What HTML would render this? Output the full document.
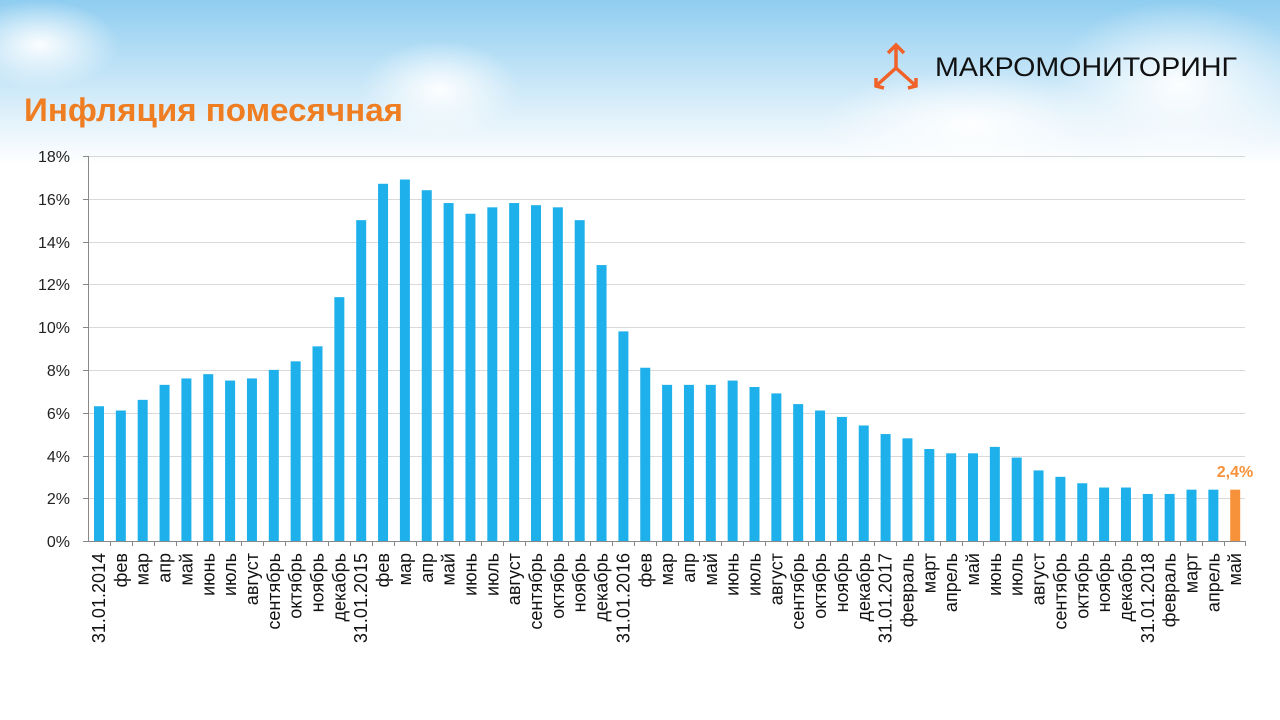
<!DOCTYPE html>
<html><head><meta charset="utf-8"><style>
html,body{margin:0;padding:0}
body{width:1280px;height:720px;overflow:hidden;position:relative;font-family:"Liberation Sans",sans-serif;
background:linear-gradient(180deg,#8fcdf0 0px,#b9e0f6 60px,#e3f2fb 120px,#ffffff 165px,#ffffff 720px);}
.cloud{position:absolute;border-radius:50%;background:radial-gradient(ellipse at center,rgba(255,255,255,0.95),rgba(255,255,255,0) 70%)}
</style></head><body>
<div class="cloud" style="left:360px;top:40px;width:160px;height:100px"></div>
<div class="cloud" style="left:820px;top:70px;width:300px;height:110px"></div>
<div class="cloud" style="left:1050px;top:0px;width:260px;height:170px"></div>
<div class="cloud" style="left:-40px;top:0px;width:160px;height:90px"></div>
<svg width="1280" height="720" style="position:absolute;left:0;top:0" font-family="Liberation Sans, sans-serif">
<text x="24" y="121" font-size="32" font-weight="bold" fill="#ef7d22" textLength="379" lengthAdjust="spacingAndGlyphs">Инфляция помесячная</text>
<g stroke="#f0622a" stroke-width="3.5" fill="none">
<path d="M896 45 L896 68 M888 53 L896 45 L904 53 M896 68 L876 86 M876 78 L876 86 L884 88 M896 68 L916 86 M908 88 L916 86 L916 78"/>
</g>
<text x="935" y="76" font-size="27" fill="#111" textLength="302" lengthAdjust="spacingAndGlyphs">МАКРОМОНИТОРИНГ</text>
<g stroke="#d9d9d9" stroke-width="1">
<line x1="88" y1="156.5" x2="1245" y2="156.5"/><line x1="88" y1="199.5" x2="1245" y2="199.5"/>
<line x1="88" y1="242.5" x2="1245" y2="242.5"/><line x1="88" y1="284.5" x2="1245" y2="284.5"/>
<line x1="88" y1="327.5" x2="1245" y2="327.5"/><line x1="88" y1="370.5" x2="1245" y2="370.5"/>
<line x1="88" y1="413.5" x2="1245" y2="413.5"/><line x1="88" y1="456.5" x2="1245" y2="456.5"/>
<line x1="88" y1="498.5" x2="1245" y2="498.5"/>
</g>
<g stroke="#888">
<line x1="83" y1="156.5" x2="88" y2="156.5"/><line x1="83" y1="199.5" x2="88" y2="199.5"/>
<line x1="83" y1="242.5" x2="88" y2="242.5"/><line x1="83" y1="284.5" x2="88" y2="284.5"/>
<line x1="83" y1="327.5" x2="88" y2="327.5"/><line x1="83" y1="370.5" x2="88" y2="370.5"/>
<line x1="83" y1="413.5" x2="88" y2="413.5"/><line x1="83" y1="456.5" x2="88" y2="456.5"/>
<line x1="83" y1="498.5" x2="88" y2="498.5"/><line x1="83" y1="541.5" x2="88" y2="541.5"/>
</g>
<line x1="88" y1="541.5" x2="1245" y2="541.5" stroke="#888"/>
<line x1="88.5" y1="156" x2="88.5" y2="541" stroke="#888"/>
<g stroke="#888" transform="translate(0,541)">
<path d="M110.5 0v5M132.5 0v5M154.5 0v5M176.5 0v5M197.5 0v5M219.5 0v5M241.5 0v5M263.5 0v5M285.5 0v5M306.5 0v5M328.5 0v5M350.5 0v5M372.5 0v5M394.5 0v5M416.5 0v5M437.5 0v5M459.5 0v5M481.5 0v5M503.5 0v5M525.5 0v5M547.5 0v5M568.5 0v5M590.5 0v5M612.5 0v5M634.5 0v5M656.5 0v5M678.5 0v5M699.5 0v5M721.5 0v5M743.5 0v5M765.5 0v5M787.5 0v5M808.5 0v5M830.5 0v5M852.5 0v5M874.5 0v5M896.5 0v5M918.5 0v5M940.5 0v5M962.5 0v5M983.5 0v5M1005.5 0v5M1027.5 0v5M1049.5 0v5M1071.5 0v5M1093.5 0v5M1115.5 0v5M1137.5 0v5M1158.5 0v5M1180.5 0v5M1202.5 0v5M1224.5 0v5M1245.5 0v5"/>
</g>
<g font-size="16" fill="#222" text-anchor="end">
<text x="70" y="162">18%</text><text x="70" y="205">16%</text><text x="70" y="248">14%</text>
<text x="70" y="290">12%</text><text x="70" y="333">10%</text><text x="70" y="376">8%</text>
<text x="70" y="419">6%</text><text x="70" y="462">4%</text><text x="70" y="504">2%</text><text x="70" y="547">0%</text>
</g>
<g transform="translate(0,541) scale(1,-21.39)" fill="#1eb0ea">
<rect x="94" y="0" width="10" height="6.3"/><rect x="115.85" y="0" width="10" height="6.1"/>
<rect x="137.7" y="0" width="10" height="6.6"/><rect x="159.55" y="0" width="10" height="7.3"/>
<rect x="181.4" y="0" width="10" height="7.6"/><rect x="203.25" y="0" width="10" height="7.8"/>
<rect x="225.1" y="0" width="10" height="7.5"/><rect x="246.95" y="0" width="10" height="7.6"/>
<rect x="268.8" y="0" width="10" height="8.0"/><rect x="290.65" y="0" width="10" height="8.4"/>
<rect x="312.5" y="0" width="10" height="9.1"/><rect x="334.35" y="0" width="10" height="11.4"/>
<rect x="356.2" y="0" width="10" height="15.0"/><rect x="378.05" y="0" width="10" height="16.7"/>
<rect x="399.9" y="0" width="10" height="16.9"/><rect x="421.75" y="0" width="10" height="16.4"/>
<rect x="443.6" y="0" width="10" height="15.8"/><rect x="465.45" y="0" width="10" height="15.3"/>
<rect x="487.3" y="0" width="10" height="15.6"/><rect x="509.15" y="0" width="10" height="15.8"/>
<rect x="531" y="0" width="10" height="15.7"/><rect x="552.85" y="0" width="10" height="15.6"/>
<rect x="574.7" y="0" width="10" height="15.0"/><rect x="596.55" y="0" width="10" height="12.9"/>
<rect x="618.4" y="0" width="10" height="9.8"/><rect x="640.25" y="0" width="10" height="8.1"/>
<rect x="662.1" y="0" width="10" height="7.3"/><rect x="683.95" y="0" width="10" height="7.3"/>
<rect x="705.8" y="0" width="10" height="7.3"/><rect x="727.65" y="0" width="10" height="7.5"/>
<rect x="749.5" y="0" width="10" height="7.2"/><rect x="771.35" y="0" width="10" height="6.9"/>
<rect x="793.2" y="0" width="10" height="6.4"/><rect x="815.05" y="0" width="10" height="6.1"/>
<rect x="836.9" y="0" width="10" height="5.8"/><rect x="858.75" y="0" width="10" height="5.4"/>
<rect x="880.6" y="0" width="10" height="5.0"/><rect x="902.45" y="0" width="10" height="4.8"/>
<rect x="924.3" y="0" width="10" height="4.3"/><rect x="946.15" y="0" width="10" height="4.1"/>
<rect x="968" y="0" width="10" height="4.1"/><rect x="989.85" y="0" width="10" height="4.4"/>
<rect x="1011.7" y="0" width="10" height="3.9"/><rect x="1033.55" y="0" width="10" height="3.3"/>
<rect x="1055.4" y="0" width="10" height="3.0"/><rect x="1077.25" y="0" width="10" height="2.7"/>
<rect x="1099.1" y="0" width="10" height="2.5"/><rect x="1120.95" y="0" width="10" height="2.5"/>
<rect x="1142.8" y="0" width="10" height="2.2"/><rect x="1164.65" y="0" width="10" height="2.2"/>
<rect x="1186.5" y="0" width="10" height="2.4"/><rect x="1208.35" y="0" width="10" height="2.4"/>
<rect x="1230.2" y="0" width="10" height="2.4" fill="#f7923a"/>
</g>
<text x="1235" y="477" font-size="16" font-weight="bold" fill="#f7923a" text-anchor="middle">2,4%</text>
<g font-size="18" fill="#111" text-anchor="end">
<text transform="translate(105,553) rotate(-90)">31.01.2014</text>
<text transform="translate(126.85,553) rotate(-90)">фев</text>
<text transform="translate(148.7,553) rotate(-90)">мар</text>
<text transform="translate(170.55,553) rotate(-90)">апр</text>
<text transform="translate(192.4,553) rotate(-90)">май</text>
<text transform="translate(214.25,553) rotate(-90)">июнь</text>
<text transform="translate(236.1,553) rotate(-90)">июль</text>
<text transform="translate(257.95,553) rotate(-90)">август</text>
<text transform="translate(279.8,553) rotate(-90)">сентябрь</text>
<text transform="translate(301.65,553) rotate(-90)">октябрь</text>
<text transform="translate(323.5,553) rotate(-90)">ноябрь</text>
<text transform="translate(345.35,553) rotate(-90)">декабрь</text>
<text transform="translate(367.2,553) rotate(-90)">31.01.2015</text>
<text transform="translate(389.05,553) rotate(-90)">фев</text>
<text transform="translate(410.9,553) rotate(-90)">мар</text>
<text transform="translate(432.75,553) rotate(-90)">апр</text>
<text transform="translate(454.6,553) rotate(-90)">май</text>
<text transform="translate(476.45,553) rotate(-90)">июнь</text>
<text transform="translate(498.3,553) rotate(-90)">июль</text>
<text transform="translate(520.15,553) rotate(-90)">август</text>
<text transform="translate(542,553) rotate(-90)">сентябрь</text>
<text transform="translate(563.85,553) rotate(-90)">октябрь</text>
<text transform="translate(585.7,553) rotate(-90)">ноябрь</text>
<text transform="translate(607.55,553) rotate(-90)">декабрь</text>
<text transform="translate(629.4,553) rotate(-90)">31.01.2016</text>
<text transform="translate(651.25,553) rotate(-90)">фев</text>
<text transform="translate(673.1,553) rotate(-90)">мар</text>
<text transform="translate(694.95,553) rotate(-90)">апр</text>
<text transform="translate(716.8,553) rotate(-90)">май</text>
<text transform="translate(738.65,553) rotate(-90)">июнь</text>
<text transform="translate(760.5,553) rotate(-90)">июль</text>
<text transform="translate(782.35,553) rotate(-90)">август</text>
<text transform="translate(804.2,553) rotate(-90)">сентябрь</text>
<text transform="translate(826.05,553) rotate(-90)">октябрь</text>
<text transform="translate(847.9,553) rotate(-90)">ноябрь</text>
<text transform="translate(869.75,553) rotate(-90)">декабрь</text>
<text transform="translate(891.6,553) rotate(-90)">31.01.2017</text>
<text transform="translate(913.45,553) rotate(-90)">февраль</text>
<text transform="translate(935.3,553) rotate(-90)">март</text>
<text transform="translate(957.15,553) rotate(-90)">апрель</text>
<text transform="translate(979,553) rotate(-90)">май</text>
<text transform="translate(1000.85,553) rotate(-90)">июнь</text>
<text transform="translate(1022.7,553) rotate(-90)">июль</text>
<text transform="translate(1044.55,553) rotate(-90)">август</text>
<text transform="translate(1066.4,553) rotate(-90)">сентябрь</text>
<text transform="translate(1088.25,553) rotate(-90)">октябрь</text>
<text transform="translate(1110.1,553) rotate(-90)">ноябрь</text>
<text transform="translate(1131.95,553) rotate(-90)">декабрь</text>
<text transform="translate(1153.8,553) rotate(-90)">31.01.2018</text>
<text transform="translate(1175.65,553) rotate(-90)">февраль</text>
<text transform="translate(1197.5,553) rotate(-90)">март</text>
<text transform="translate(1219.35,553) rotate(-90)">апрель</text>
<text transform="translate(1241.2,553) rotate(-90)">май</text>
</g>
</svg>
</body></html>
